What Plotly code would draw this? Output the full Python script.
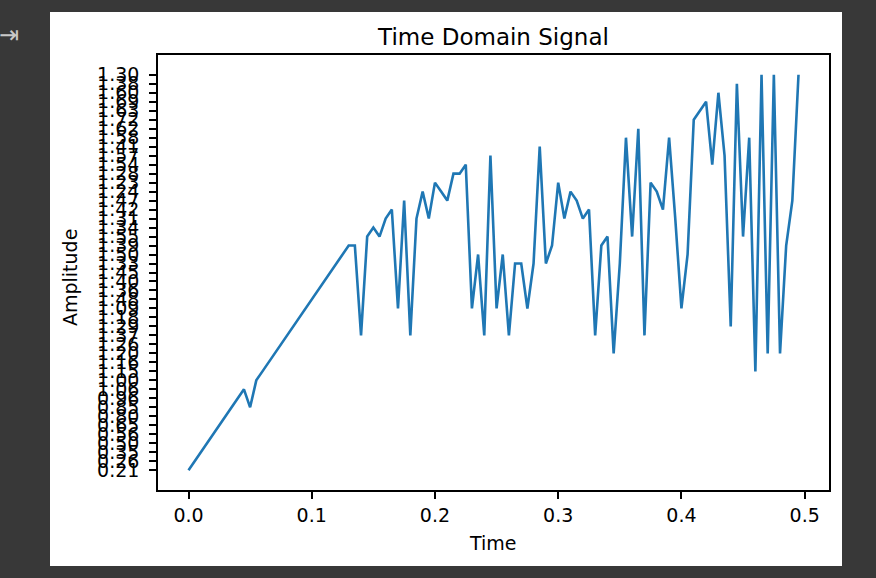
import numpy as np
import plotly.graph_objects as go

# sampling grid (s)
time = np.round(np.arange(100) * 0.005, 3)

# amplitude readings, kept as strings (so the y axis is categorical, in order of first appearance)
amplitude = [
    "0.21", "0.26", "0.35", "0.50", "0.56", "0.65", "0.80", "0.85", "0.96", "1.06",
    "0.85", "1.00", "1.15", "1.16", "1.20", "1.26", "1.37", "1.29", "1.18", "1.09",
    "1.48", "1.36", "1.40", "1.45", "1.33", "1.50", "1.39", "1.39", "1.37", "1.55",
    "1.34", "1.55", "1.31", "1.42", "1.09", "1.47", "1.37", "1.31", "1.24", "1.31",
    "1.23", "1.24", "1.47", "1.28", "1.28", "1.54", "1.09", "1.50", "1.37", "1.57",
    "1.09", "1.50", "1.37", "1.33", "1.33", "1.09", "1.33", "1.41", "1.33", "1.39",
    "1.23", "1.31", "1.24", "1.47", "1.31", "1.42", "1.37", "1.39", "1.55", "1.20",
    "1.33", "1.58", "1.55", "1.62", "1.37", "1.23", "1.24", "1.42", "1.58", "1.31",
    "1.09", "1.50", "1.72", "1.63", "1.69", "1.54", "1.60", "1.57", "1.29", "1.38",
    "1.55", "1.58", "1.15", "1.30", "1.20", "1.30", "1.20", "1.39", "1.47", "1.30",
]

title_text = "Time Domain Signal"
x_label = "Time"
y_label = "Amplitude"

W, H = 876, 578
L, R, T, B = 158, 47, 55, 88
pw, ph = W - L - R, H - T - B

def px_x(p):
    return (p - L) / pw

def px_y(p):
    return (H - B - p) / ph

fig = go.Figure()
fig.add_trace(go.Scatter(
    x=time, y=amplitude, mode="lines",
    line=dict(color="#1f77b4", width=2.6),
    hoverinfo="skip", showlegend=False,
))

n_cat = len(dict.fromkeys(amplitude))
pad_y = 0.05 * (n_cat - 1)
pad_x = 0.05 * (time.max() - time.min())

font = dict(family="DejaVu Sans", color="black")

fig.update_layout(
    width=W, height=H,
    margin=dict(l=L, r=R, t=T, b=B),
    paper_bgcolor="#383838",
    plot_bgcolor="white",
    font=dict(family="DejaVu Sans", size=19, color="black"),
    title=dict(text=title_text, x=0.5 * (L + W - R) / W, xanchor="center",
               y=1 - 37 / H, yanchor="middle", yref="container",
               font=dict(size=23, **font)),
    shapes=[dict(type="rect", xref="paper", yref="paper", layer="below",
                 x0=px_x(50), x1=px_x(842), y0=px_y(566), y1=px_y(12),
                 fillcolor="white", line_width=0)],
    annotations=[
        dict(text="⇥", xref="paper", yref="paper", x=px_x(9), y=px_y(35),
             xanchor="center", yanchor="middle",
             showarrow=False, font=dict(size=24, color="#c8c8c8", family="DejaVu Sans")),
        dict(text=y_label, xref="paper", yref="paper", x=px_x(70), y=px_y(278),
             xanchor="center", yanchor="middle",
             textangle=-90, showarrow=False, font=dict(size=19, **font)),
        dict(text=x_label, xref="paper", yref="paper", x=px_x(493), y=px_y(543),
             xanchor="center", yanchor="middle",
             showarrow=False, font=dict(size=19, **font)),
    ],
)

fig.update_xaxes(
    range=[time.min() - pad_x, time.max() + pad_x],
    tickmode="array", tickvals=[0.0, 0.1, 0.2, 0.3, 0.4, 0.5],
    ticktext=["0.0", "0.1", "0.2", "0.3", "0.4", "0.5"],
    ticks="outside", ticklen=7, tickwidth=1.6, tickcolor="black",
    ticklabelstandoff=0,
    showline=True, linecolor="black", linewidth=1.6, mirror=True,
    showgrid=False, zeroline=False,
    tickfont=dict(size=19, **font),
)
fig.update_yaxes(
    type="category", categoryorder="trace",
    range=[-pad_y, n_cat - 1 + pad_y],
    tickmode="linear", tick0=0, dtick=1,
    ticks="outside", ticklen=7, tickwidth=1.6, tickcolor="black",
    ticklabelstandoff=6,
    showline=True, linecolor="black", linewidth=1.6, mirror=True,
    showgrid=False, zeroline=False,
    tickfont=dict(size=19, **font),
)

# page body has an 8px default margin; drop it so the figure fills the window
fig.write_html("out.html",
               config={"displayModeBar": False},
               post_script="document.body.style.margin='0';"
                           "document.body.style.background='#383838';")
